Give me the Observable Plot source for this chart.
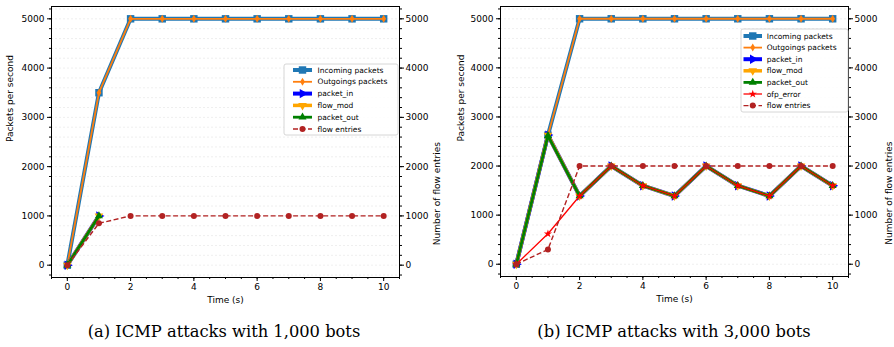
<!DOCTYPE html>
<html><head><meta charset="utf-8">
<script src="https://cdn.jsdelivr.net/npm/d3@7"></script>
<script src="https://cdn.jsdelivr.net/npm/@observablehq/plot@0.6"></script>
<style>
body{margin:0;background:#fff;}
#wrap{position:relative;width:894px;height:347px;overflow:hidden;font-family:"DejaVu Sans",sans-serif;background:#fff;}
.panel{position:absolute;top:0;}
.legend{position:absolute;}
.caption{position:absolute;top:322px;font-family:"DejaVu Serif",serif;font-size:16.3px;white-space:nowrap;transform:translateX(-50%);color:#000;}
</style></head><body><div id="wrap"></div>
<script>
// ---- data: (a) ICMP attacks with 1,000 bots ----
const time = [0,1,2,3,4,5,6,7,8,9,10];
const aIncoming = [0,3500,5000,5000,5000,5000,5000,5000,5000,5000,5000];
const aOutgoing = [0,3500,5000,5000,5000,5000,5000,5000,5000,5000,5000];
const aCtrlTime = [0,1];
const aPacketIn = [0,1000];
const aFlowMod = [0,1000];
const aPacketOut = [0,1000];
const aFlowEntries = [0,850,1000,1000,1000,1000,1000,1000,1000,1000,1000];
// ---- data: (b) ICMP attacks with 3,000 bots ----
const bIncoming = [0,2630,5000,5000,5000,5000,5000,5000,5000,5000,5000];
const bOutgoing = [0,2630,5000,5000,5000,5000,5000,5000,5000,5000,5000];
const bPacketIn = [0,2630,1390,2000,1600,1390,2000,1600,1390,2000,1600];
const bFlowMod = [0,2630,1390,2000,1600,1390,2000,1600,1390,2000,1600];
const bPacketOut = [0,2620,1390,2000,1600,1390,2000,1600,1390,2000,1600];
const bOfpError = [0,620,1390,2000,1600,1390,2000,1600,1390,2000,1600];
const bFlowEntries = [0,300,2000,2000,2000,2000,2000,2000,2000,2000,2000];
// ---- axes ----
const xTicks = [0,2,4,6,8,10];
const yTicks = [0,1000,2000,3000,4000,5000];
const captionA = "(a) ICMP attacks with 1,000 bots";
const captionB = "(b) ICMP attacks with 3,000 bots";

const xMinor = d3.range(-0.5, 10.51, 0.5);
const yMinor = d3.range(-200, 5201, 200);

const thinDiamond = {draw(ctx, size){const a=Math.sqrt(size/Math.PI); ctx.moveTo(0,-a); ctx.lineTo(0.6*a,0); ctx.lineTo(0,a); ctx.lineTo(-0.6*a,0); ctx.closePath();}};

const style = {
  incoming:{label:"Incoming packets", color:"#1f77b4", width:4, symbol:d3.symbolSquare, r:4.2, rotate:0},
  outgoing:{label:"Outgoings packets", color:"#ff7f0e", width:1.8, symbol:thinDiamond, r:4, rotate:0},
  packetIn:{label:"packet_in", color:"#0000ff", width:4, symbol:d3.symbolTriangle, r:3.5, rotate:90},
  flowMod:{label:"flow_mod", color:"#ffa500", width:3.5, symbol:d3.symbolTriangle, r:3.2, rotate:180},
  packetOut:{label:"packet_out", color:"#008000", width:2.8, symbol:d3.symbolTriangle, r:3, rotate:0},
  ofpError:{label:"ofp_error", color:"#ff0000", width:1.3, symbol:d3.symbolStar, r:2.6, rotate:0},
  flowEntries:{label:"flow entries", color:"#b22222", width:1.4, symbol:d3.symbolCircle, r:3, rotate:0, dash:"5,2.5"}
};

function rows(ts, vs){ return ts.map((t,i)=>({t, v:vs[i]})); }

function seriesMarks(s, data){
  return [
    Plot.line(data, {x:"t", y:"v", stroke:s.color, strokeWidth:s.width, strokeDasharray:s.dash, strokeLinejoin:"round", strokeLinecap:s.dash?"butt":"round"}),
    Plot.dot(data, {x:"t", y:"v", symbol:s.symbol, r:s.r, fill:s.color, stroke:"none", rotate:s.rotate})
  ];
}

const fmt = d => String(d);

function panel(series, m){
  return Plot.plot({
    width:447, height:310,
    marginLeft:m.left, marginRight:m.right, marginTop:6, marginBottom:m.bottom,
    x:{domain:[-0.5,10.5], label:null},
    y:{domain:[-250,5250], label:null},
    style:{fontFamily:"DejaVu Sans, sans-serif", fontSize:"9px", color:"#000", background:"transparent", overflow:"visible"},
    marks:[
      Plot.ruleY(yMinor, {stroke:"#b0b0b0", strokeOpacity:0.35, strokeWidth:0.6, strokeDasharray:"2,2"}),
      ...series.flatMap(([s,d])=>seriesMarks(s,d)),
      Plot.axisX(xTicks, {tickSize:4, tickPadding:2.5, fontSize:9, label:null, tickFormat:fmt}),
      Plot.axisX(xMinor, {tickSize:2, tickFormat:()=>"", label:null}),
      Plot.axisY(yTicks, {anchor:"left", tickSize:4, tickPadding:3, fontSize:9, label:null, tickFormat:fmt}),
      Plot.axisY(yMinor, {anchor:"left", tickSize:2, tickFormat:()=>"", label:null}),
      Plot.axisY(yTicks, {anchor:"right", tickSize:4, tickPadding:2, fontSize:9, label:null, tickFormat:fmt}),
      Plot.axisY(yMinor, {anchor:"right", tickSize:2, tickFormat:()=>"", label:null}),
      Plot.text(["Packets per second"], {frameAnchor:"left", dx:-m.ylab, rotate:-90, fontSize:9}),
      Plot.text(["Number of flow entries"], {frameAnchor:"right", dx:m.ylab2, rotate:-90, fontSize:9}),
      Plot.text(["Time (s)"], {frameAnchor:"bottom", dy:25.5, fontSize:9}),
      Plot.frame({stroke:"#000", strokeWidth:1})
    ]
  });
}

function legend(items, box){
  const svg = d3.create("svg").attr("width", box.w+2).attr("height", box.h+2).attr("class","legend")
    .style("left", (box.x-1)+"px").style("top", (box.y-1)+"px");
  svg.append("rect").attr("x",1).attr("y",1).attr("width",box.w).attr("height",box.h).attr("rx",2)
    .attr("fill","rgba(255,255,255,0.85)").attr("stroke","#cccccc").attr("stroke-width",0.8);
  items.forEach((s,i)=>{
    const cy = 1 + box.first + i*box.step;
    const x0 = 1 + box.lx0, x1 = 1 + box.lx1;
    svg.append("line").attr("x1",x0).attr("x2",x1).attr("y1",cy).attr("y2",cy)
      .attr("stroke",s.color).attr("stroke-width",s.width).attr("stroke-dasharray",s.dash||null);
    svg.append("path").attr("d", d3.symbol(s.symbol, s.r*s.r*Math.PI)())
      .attr("transform",`translate(${(x0+x1)/2},${cy}) rotate(${s.rotate})`).attr("fill",s.color);
    svg.append("text").attr("x",1+box.tx).attr("y",cy).attr("dy","0.35em")
      .attr("font-family","DejaVu Sans, sans-serif").attr("font-size",7.5).attr("fill","#000").text(s.label);
  });
  return svg.node();
}

const wrap = document.getElementById("wrap");

const seriesA = [
  [style.incoming, rows(time,aIncoming)],
  [style.outgoing, rows(time,aOutgoing)],
  [style.packetIn, rows(aCtrlTime,aPacketIn)],
  [style.flowMod, rows(aCtrlTime,aFlowMod)],
  [style.packetOut, rows(aCtrlTime,aPacketOut)],
  [style.flowEntries, rows(time,aFlowEntries)]
];
const seriesB = [
  [style.incoming, rows(time,bIncoming)],
  [style.outgoing, rows(time,bOutgoing)],
  [style.packetIn, rows(time,bPacketIn)],
  [style.flowMod, rows(time,bFlowMod)],
  [style.packetOut, rows(time,bPacketOut)],
  [style.ofpError, rows(time,bOfpError)],
  [style.flowEntries, rows(time,bFlowEntries)]
];

const pA = document.createElement("div"); pA.className="panel"; pA.style.left="0px";
pA.append(panel(seriesA, {left:51, right:48, bottom:33, ylab:41, ylab2:38}));
const pB = document.createElement("div"); pB.className="panel"; pB.style.left="447px";
pB.append(panel(seriesB, {left:53, right:46, bottom:34, ylab:39.5, ylab2:41}));
wrap.append(pA, pB);

wrap.append(legend(seriesA.map(d=>d[0]), {x:284, y:64, w:114, h:71, first:6, step:11.8, lx0:9, lx1:28, tx:33.5}));
wrap.append(legend(seriesB.map(d=>d[0]), {x:741, y:29, w:107, h:83, first:7, step:11.6, lx0:2.5, lx1:21, tx:25.7}));

const cA = document.createElement("div"); cA.className="caption"; cA.style.left="224px"; cA.textContent=captionA;
const cB = document.createElement("div"); cB.className="caption"; cB.style.left="674px"; cB.textContent=captionB;
wrap.append(cA, cB);
</script></body></html>
